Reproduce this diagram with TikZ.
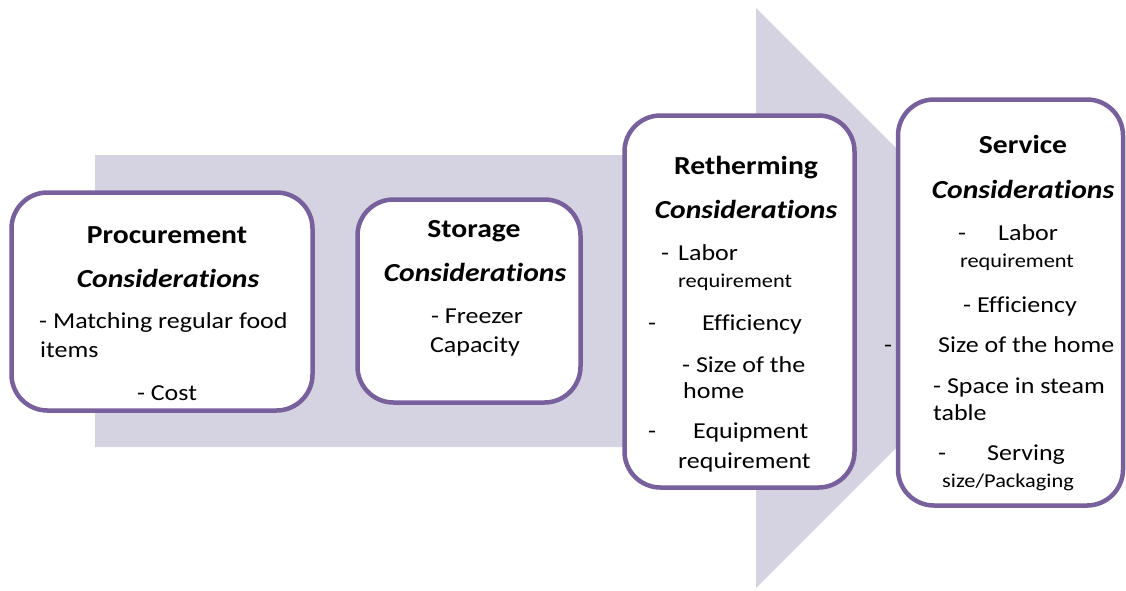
\documentclass[tikz,border=0pt]{standalone}
\usepackage{fontspec}
\setmainfont{Carlito}[FakeStretch=1.14, Ligatures=NoCommon]
\definecolor{boxline}{RGB}{119,96,155}
\definecolor{flowfill}{RGB}{213,211,226}
\begin{document}
\begin{tikzpicture}[x=1pt,y=-1pt,
  box/.style={draw=boxline, line width=4.5pt, fill=white, rounded corners=36pt, inner sep=0pt},
  txt/.style={inner sep=0pt, anchor=base, font=\fontsize{22.8}{22.8}\selectfont},
  txtl/.style={txt, anchor=base west},
  small/.style={font=\fontsize{19.6}{19.6}\selectfont},
  head/.style={txt, font=\fontsize{26}{26}\selectfont\bfseries},
  sub/.style={txt, font=\fontsize{26}{26}\selectfont\bfseries\itshape}]
\useasboundingbox (0,0) rectangle (1126,590);

% flow arrow behind the boxes
\fill[flowfill] (95,155) -- (756,155) -- (756,8) -- (1046,298) -- (756,588)
  -- (756,447) -- (95,447) -- cycle;

% stage boxes
\node[box, minimum width=301pt, minimum height=218pt] (proc) at (162,301.5) {};
\node[box, minimum width=223pt, minimum height=203pt] (stor) at (469,301) {};
\node[box, minimum width=230pt, minimum height=372pt] (reth) at (739.5,301.5) {};
\node[box, minimum width=225pt, minimum height=406pt] (serv) at (1010.5,302.5) {};

% Procurement
\node[head] (p1) at (167,243) {Procurement};
\node[sub]  (p2) at (168,287) {Considerations};
\node[txtl] (p3) at (39,328) {- Matching regular food};
\node[txtl] (p4) at (40,357) {items};
\node[txt]  (p5) at (167,400) {- Cost};

% Storage
\node[head] (s1) at (474,237) {Storage};
\node[sub]  (s2) at (475,281) {Considerations};
\node[txt]  (s3) at (477,323) {- Freezer};
\node[txt]  (s4) at (475,352) {Capacity};

% Retherming
\node[head] (r1) at (746,174) {Retherming};
\node[sub]  (r2) at (746,218) {Considerations};
\node[txtl] (r3a) at (661,260) {-};
\node[txtl] (r3b) at (678,260) {Labor};
\node[txtl, small] (r4) at (678,287) {requirement};
\node[txtl] (r5a) at (648,330) {-};
\node[txtl] (r5b) at (702,330) {Efficiency};
\node[txtl] (r6) at (682,372) {- Size of the};
\node[txtl] (r7) at (683,398) {home};
\node[txtl] (r8a) at (648,438) {-};
\node[txtl] (r8b) at (693,438) {Equipment};
\node[txtl] (r9) at (678,468) {requirement};

% Service
\node[head] (v1) at (1023,153) {Service};
\node[sub]  (v2) at (1023,198) {Considerations};
\node[txtl] (v3a) at (958,240) {-};
\node[txtl] (v3b) at (998,240) {Labor};
\node[txt, small] (v4) at (1017,267) {requirement};
\node[txt]  (v5) at (1020,312) {- Efficiency};
\node[txtl] (v6a) at (884,352) {-};
\node[txtl] (v6b) at (938,352) {Size of the home};
\node[txtl] (v7) at (933,393) {- Space in steam};
\node[txtl] (v8) at (933,420) {table};
\node[txtl] (v9a) at (938,460) {-};
\node[txtl] (v9b) at (987,460) {Serving};
\node[txt, small] (v10) at (1008,487) {size/Packaging};
\end{tikzpicture}
\end{document}
